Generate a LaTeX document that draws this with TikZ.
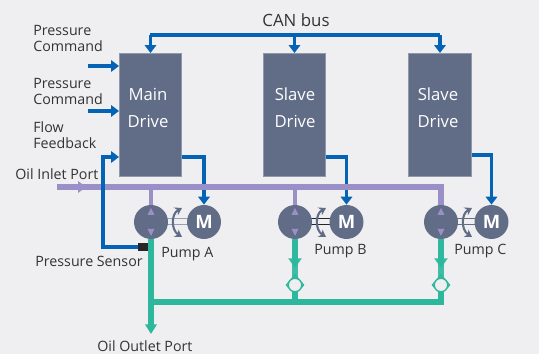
\documentclass[tikz,border=0pt]{standalone}
\usepackage{fontspec}
\setmainfont{Open Sans}
\usetikzlibrary{arrows.meta,positioning}
\definecolor{panel grey}{HTML}{EFEFF2}
\definecolor{drive slate}{HTML}{616D87}
\definecolor{signal blue}{HTML}{0563B5}
\definecolor{inlet purple}{HTML}{9B8FC7}
\definecolor{outlet green}{HTML}{2DB89E}
\definecolor{label grey}{HTML}{333333}
\begin{document}
\begin{tikzpicture}[x=0.02cm, y=-0.02cm,
		drive/.style = {fill=drive slate, draw=drive slate!70!white, line width=0.3pt, minimum width=1.25cm, minimum height=2.47cm, inner sep=0},
		drivetext/.style = {text=white, inner sep=0, align=center, font=\fontsize{9.5}{15.3}\selectfont},
		round/.style = {circle, fill=drive slate, minimum size=0.68cm, inner sep=0},
		caption/.style = {text=label grey, inner sep=0, align=left, font=\fontsize{8.1}{9.1}\selectfont},
		signal/.style = {signal blue, line width=2.2pt},
		signaltip/.style = {signal, -{Triangle[length=4.5pt,width=6.5pt]}},
		inlet/.style = {inlet purple, line width=3.3pt},
		outlet/.style = {outlet green, line width=3.2pt},
		outlettip/.style = {outlet, -{Triangle[length=5.5pt,width=6.5pt]}},
		valve/.style = {circle, draw=outlet green, fill=panel grey, line width=0.8pt, minimum size=0.27cm, inner sep=0}]
			% background
			\fill[panel grey] (0, 0) rectangle (539, 354);
			\useasboundingbox (0, 0) rectangle (539, 354);
			% drives
			\node (main) [drive] at (150.5, 115) {};
			\node (slaveb) [drive] at (294.5, 115) {};
			\node (slavec) [drive] at (440, 115) {};
			\node (maintext) [drivetext] at (148, 108) {Main\\Drive};
			\node (slavebtext) [drivetext] at (295, 108) {Slave\\Drive};
			\node (slavectext) [drivetext] at (438, 108) {Slave\\Drive};
			% pumps and motors
			\foreach \pname/\px/\mx/\shaft in {a/151/204/drive slate!65, b/295/346.5/black!85, c/441/491.5/drive slate} {
				\coordinate (shaftup) at (\px, 218.5);
				\coordinate (shaftdown) at (\px, 224.5);
				\draw[\shaft, line width=1.1pt] (shaftup) -- (\mx, 218.5) (shaftdown) -- (\mx, 224.5);
				\node (pump\pname) [round] at (\px, 222) {};
				\node (motor\pname) [round, text=white, font=\fontsize{10.5}{12}\bfseries\selectfont] at (\mx, 222) {M};
			}
			% can bus
			\coordinate (canleft) at (150.5, 35);
			\coordinate (canright) at (440, 35);
			\draw[signal, line cap=square] (canleft) -- (canright);
			\draw[signaltip] (canleft) -- (main.north);
			\draw[signaltip] (294.5, 35) -- (slaveb.north);
			\draw[signaltip] (canright) -- (slavec.north);
			\node (canlabel) [caption, font=\fontsize{9.6}{10}\selectfont] at (296, 20) {CAN bus};
			% commands
			\node (cmdone) [caption, anchor=north west] at (33, 25) {Pressure\\Command};
			\node (cmdtwo) [caption, anchor=north west] at (33, 78) {Pressure\\Command};
			\node (flow) [caption, anchor=north west] at (33, 121) {Flow\\Feedback};
			\coordinate (cmdonein) at (88, 66);
			\coordinate (cmdtwoin) at (88, 111);
			\draw[signaltip] (cmdonein) -- (cmdonein -| main.west);
			\draw[signaltip] (cmdtwoin) -- (cmdtwoin -| main.west);
			% motor feeds
			\draw[signaltip] (main.east |- 0, 157) -| (motora.north);
			\draw[signaltip] (slaveb.east |- 0, 157) -| (motorb.north);
			\draw[signaltip] (slavec.east |- 0, 155) -| (motorc.north);
			% oil inlet
			\node (inletlabel) [caption, anchor=west] at (15, 174) {Oil Inlet Port};
			\coordinate (inletstart) at (57, 187);
			\coordinate (inletend) at (441, 187);
			\draw[inlet, line join=miter] (inletstart) -- (inletend) -- (pumpc.north);
			\draw[inlet, -{Triangle[length=4.5pt,width=6.5pt]}] (inletstart) -- (86, 187);
			\draw[inlet, line width=2.5pt] (151, 187) -- (pumpa.north);
			\draw[inlet, line width=2.5pt] (295, 187) -- (pumpb.north);
			% pressure sensor loop
			\node (sensor) [fill=black!85, minimum width=0.22cm, minimum height=0.16cm, inner sep=0] at (143.5, 247) {};
			\node (sensorlabel) [caption, anchor=west] at (35, 261) {Pressure Sensor};
			\draw[signaltip] (sensor.west) -| (103, 157) -- (main.west |- 0, 157);
			% oil outlet
			\node (outletlabel) [caption, anchor=west] at (97, 346) {Oil Outlet Port};
			\coordinate (outletend) at (151, 334);
			\coordinate (junction) at (151, 302);
			\coordinate (corner) at (441, 302);
			\draw[outlettip] (pumpa.south) -- (outletend);
			\draw[outlet] (junction) -- (corner) -- (441, 285);
			\draw[outlet] (295, 302) -- (295, 285);
			\foreach \pname/\px in {b/295, c/441} {
				\draw[outlet, opacity=.9] (pump\pname.south) -- (\px, 280);
				\draw[outlet, opacity=.9, -{Triangle[length=5.5pt,width=7.4pt]}] (pump\pname.south) -- (\px, 268);
				\draw[outlet green, line width=0.8pt] (\px-6, 288) -- (\px-8.5, 285) -- (\px, 275) -- (\px+8.5, 285) -- (\px+6, 288);
				\node (valve\pname) [valve] at (\px, 285) {};
			}
			% shaft arrows and pump marks
			\foreach \pname/\px in {a/151, b/295, c/441} {
				\draw[drive slate, line width=1.2pt, {Stealth[length=4pt,width=5pt]}-{Stealth[length=4pt,width=5pt]}] (\px+31, 208) .. controls (\px+20, 214) and (\px+20, 230) .. (\px+31, 237);
				\fill[inlet purple] (\px, 208) -- (\px+3.5, 215) -- (\px-3.5, 215) -- cycle;
				\fill[inlet purple] (\px, 236) -- (\px+3.5, 229) -- (\px-3.5, 229) -- cycle;
			}
			\node (pumpalabel) [caption, anchor=west] at (161, 254) {Pump A};
			\node (pumpblabel) [caption, anchor=west] at (314, 251) {Pump B};
			\node (pumpclabel) [caption, anchor=west] at (454, 251) {Pump C};
		\end{tikzpicture}
\end{document}
